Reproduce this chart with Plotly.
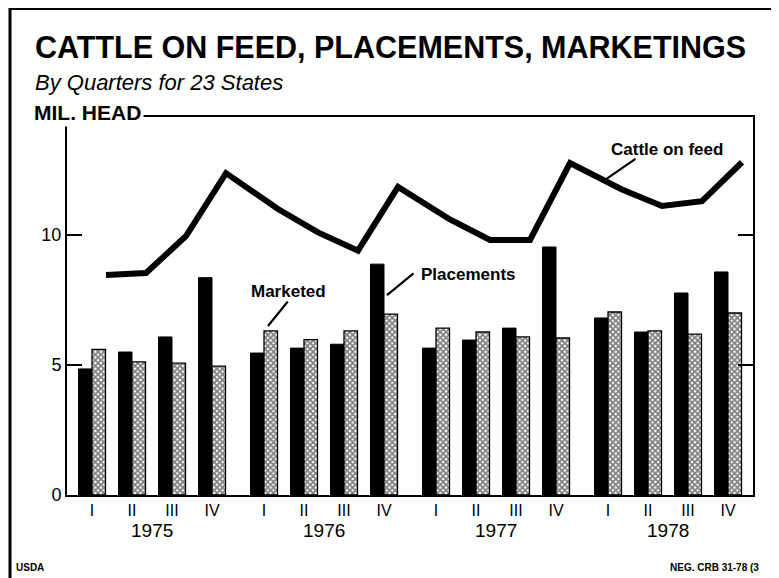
import plotly.graph_objects as go

# ---------------- data ----------------
years = ["1975", "1976", "1977", "1978"]
quarters = ["I", "II", "III", "IV"]

# million head (quarter I..IV of each year)
placements = [4.85, 5.50, 6.08, 8.36,
              5.46, 5.65, 5.80, 8.88,
              5.65, 5.96, 6.42, 9.54,
              6.81, 6.27, 7.77, 8.58]
marketed = [5.60, 5.12, 5.07, 4.96,
            6.31, 5.98, 6.31, 6.96,
            6.42, 6.27, 6.08, 6.04,
            7.04, 6.31, 6.19, 7.00]
cattle_on_feed = [8.46, 8.54, 9.96, 12.38,
                  11.00, 10.10, 9.40, 11.85,
                  10.60, 9.81, 9.81, 12.77,
                  11.75, 11.12, 11.30, 12.80]

y_ticks = [0, 5, 10]

# ---------------- layout helpers ----------------
SW, SH = 779, 578          # screenshot size
OFF = 8                    # browser body margin
W, H = SW - OFF, SH - OFF  # figure size
PL, PR, PT, PB = 67, 753, 117, 495  # plot area in screenshot pixels
YEAR_STEP = 4.3
x_pos = [yi * YEAR_STEP + qi for yi in range(len(years)) for qi in range(len(quarters))]
line_x = [x + 0.35 for x in x_pos]
tick_text = quarters * len(years)
year_centers = [yi * YEAR_STEP + 1.5 for yi in range(len(years))]


def px(x):
    return (x - PL) / (PR - PL)


def py(y):
    return (PB - y) / (PB - PT)


FONT = "Liberation Sans, Arial, Helvetica, sans-serif"

fig = go.Figure()

fig.add_trace(go.Bar(
    x=x_pos, y=placements, name="Placements",
    marker=dict(color="black", line=dict(color="black", width=1)),
))
fig.add_trace(go.Bar(
    x=x_pos, y=marketed, name="Marketed",
    marker=dict(color="white", line=dict(color="black", width=1.3),
                pattern=dict(shape="x", size=4, solidity=0.7,
                             fgcolor="black", bgcolor="white")),
))
fig.add_trace(go.Scatter(
    x=line_x, y=cattle_on_feed, mode="lines", name="Cattle on feed",
    line=dict(color="black", width=6),
))

annotations = []
# titles
annotations.append(dict(text="<b>CATTLE ON FEED, PLACEMENTS, MARKETINGS</b>",
                        xref="paper", yref="paper", x=px(33), y=py(47),
                        xanchor="left", yanchor="middle", showarrow=False,
                        font=dict(family=FONT, size=30.5, color="black")))
annotations.append(dict(text="<i>By Quarters for 23 States</i>",
                        xref="paper", yref="paper", x=px(33), y=py(82),
                        xanchor="left", yanchor="middle", showarrow=False,
                        font=dict(family=FONT, size=22, color="black")))
annotations.append(dict(text="<b>MIL. HEAD</b>",
                        xref="paper", yref="paper", x=px(31), y=py(113),
                        xanchor="left", yanchor="middle", showarrow=False,
                        bgcolor="white", borderpad=2,
                        font=dict(family=FONT, size=21, color="black")))
# year labels
for yc, yr in zip(year_centers, years):
    annotations.append(dict(text=yr, xref="x", yref="paper", x=yc, y=py(530),
                            xanchor="center", yanchor="middle", showarrow=False,
                            font=dict(family=FONT, size=19, color="black")))
# series labels
for txt, cx, cy in [("Marketed", 288, 291), ("Placements", 468, 274),
                    ("Cattle on feed", 667, 149)]:
    annotations.append(dict(text="<b>" + txt + "</b>", xref="paper", yref="paper",
                            x=px(cx), y=py(cy), xanchor="center", yanchor="middle",
                            showarrow=False,
                            font=dict(family=FONT, size=17, color="black")))
# leader lines (tip in data coords, tail offset in pixels)
for tx, ty, ax, ay in [(4.4, 6.5, 21, -26), (7.375, 7.69, 28, -23),
                       (12.825, 12.12, 32, -22)]:
    annotations.append(dict(text="", x=tx, y=ty, xref="x", yref="y",
                            showarrow=True, arrowhead=0, arrowwidth=2.2,
                            arrowcolor="black", ax=ax, ay=ay, standoff=0))
# footer
annotations.append(dict(text="<b>USDA</b>", xref="paper", yref="paper",
                        x=px(14), y=py(567), xanchor="left", yanchor="middle",
                        showarrow=False, font=dict(family=FONT, size=10, color="black")))
annotations.append(dict(text="<b>NEG. CRB 31-78 (3</b>", xref="paper", yref="paper",
                        x=px(668), y=py(567), xanchor="left", yanchor="middle",
                        showarrow=False, font=dict(family=FONT, size=10, color="black")))

shapes = [
    # outer border (left and top)
    dict(type="line", xref="paper", yref="paper", x0=px(10), x1=px(10),
         y0=py(8), y1=py(SH), line=dict(color="black", width=3)),
    dict(type="line", xref="paper", yref="paper", x0=px(10), x1=px(SW),
         y0=py(9), y1=py(9), line=dict(color="black", width=2)),
]

fig.update_layout(
    width=W, height=H,
    margin=dict(l=PL - OFF, r=SW - PR, t=PT - OFF, b=SH - PB),
    paper_bgcolor="white", plot_bgcolor="white",
    showlegend=False,
    barmode="group", bargap=0.325, bargroupgap=0,
    annotations=annotations, shapes=shapes,
    font=dict(family=FONT, color="black"),
)
fig.update_xaxes(range=[-0.625, 16.525], tickvals=x_pos, ticktext=tick_text,
                 ticks="", showgrid=False, zeroline=False,
                 showline=True, linecolor="black", linewidth=2, mirror=True,
                 tickfont=dict(family=FONT, size=16, color="black"))
fig.update_yaxes(range=[0, 14.54], tickvals=y_ticks, ticks="inside", ticklen=15,
                 tickwidth=2, tickcolor="black", showgrid=False, zeroline=False,
                 showline=True, linecolor="black", linewidth=2, mirror="ticks",
                 tickfont=dict(family=FONT, size=18, color="black"))

fig.write_html("out.html")
